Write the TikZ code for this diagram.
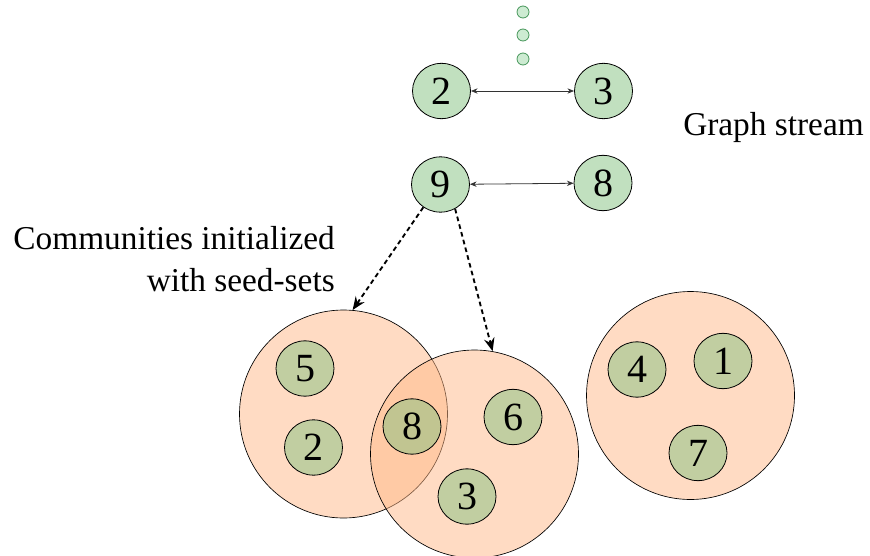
\documentclass[tikz,border=0pt]{standalone}
\usepackage{fontspec}
\setmainfont{Liberation Serif}
\usetikzlibrary{shapes.geometric,arrows.meta}
\definecolor{gfill}{RGB}{131,193,127}
\definecolor{pfill}{RGB}{255,184,136}
\definecolor{dotline}{RGB}{70,150,90}
\definecolor{dotfill}{RGB}{205,235,210}
\tikzset{
  vnode/.style={ellipse,draw=black,line width=0.6pt,fill=gfill,fill opacity=0.5,text opacity=1,
    minimum width=43.5pt,minimum height=41.5pt,inner sep=0pt,font=\fontsize{30}{30}\selectfont},
  comm/.style={circle,draw=black,line width=0.5pt,fill=pfill,fill opacity=0.5,minimum size=156pt,inner sep=0pt},
  sdot/.style={circle,draw=dotline,fill=dotfill,line width=0.6pt,minimum size=9pt,inner sep=0pt},
  edge/.style={{Stealth[length=5pt,width=4pt]}-{Stealth[length=5pt,width=4pt]},line width=0.6pt,draw=black!80},
  seed/.style={-{Stealth[length=10pt,width=8pt,inset=3.5pt]},line width=1.4pt,dash pattern=on 3.5pt off 2.5pt},
  lbl/.style={font=\fontsize{25}{31}\selectfont,inner sep=0pt}
}
\begin{document}
\begin{tikzpicture}[x=0.75pt,y=-0.75pt]
\useasboundingbox (0,0) rectangle (870,556);
% community circles
\node[comm] (cA) at (343.5,414) {};
\node[comm] (cB) at (474.5,454) {};
\node[comm] (cC) at (690.5,395.5) {};
% stream dots
\node[sdot] (d1) at (523,12) {};
\node[sdot] (d2) at (523,35) {};
\node[sdot] (d3) at (523,59) {};
% stream edges
\node[vnode] (t2) at (441.5,91) {2};
\node[vnode] (t3) at (603.5,91) {3};
\node[vnode] (t9) at (440.5,184.5) {9};
\node[vnode] (t8) at (603,183) {8};
\draw[edge] (t2) -- (t3);
\draw[edge] (t9) -- (t8);
% community members
\node[vnode] (n5) at (305,368.5) {5};
\node[vnode] (n2) at (313.5,447.5) {2};
\node[vnode] (n8) at (412,426.5) {8};
\node[vnode] (n6) at (513,417) {6};
\node[vnode] (n3) at (467,496.5) {3};
\node[vnode] (n4) at (637,369.5) {4};
\node[vnode] (n1) at (723,361) {1};
\node[vnode] (n7) at (698,453) {7};
% seed arrows
\draw[seed] (t9.-127) -- (cA.85);
\draw[seed] (t9.-59) -- (cB.80);
% labels
\node[lbl,anchor=west] (gs) at (683,127) {Graph stream};
\node[lbl,align=right,anchor=east] (ci) at (335,259) {Communities initialized\\with seed-sets};
\end{tikzpicture}
\end{document}
